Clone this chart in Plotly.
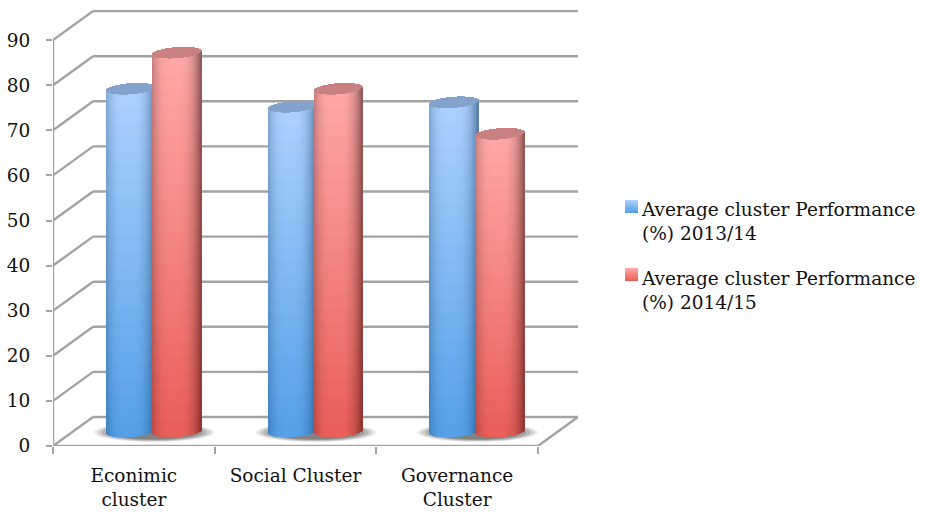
import plotly.graph_objects as go

categories = ["Econimic<br>cluster", "Social Cluster", "Governance<br>Cluster"]
series_2013 = [76, 72, 73]
series_2014 = [84, 76, 66]
name_2013 = "Average cluster Performance<br>(%) 2013/14"
name_2014 = "Average cluster Performance<br>(%) 2014/15"
y_ticks = list(range(0, 100, 10))

# Scale: pixels per data unit
PX_X, PX_Y = 161.5, 4.51
DEPTH_X, DEPTH_Y = 40 / PX_X, 29 / PX_Y
FONT = "DejaVu Serif"
FONT_SIZE = 18.5
GRID = "#a3a3a3"

BLUE = dict(top=(172, 209, 255), bottom=(84, 160, 230), top_edge=(88, 122, 165), bottom_edge=(42, 100, 158), cap=(131, 163, 204))
RED = dict(top=(255, 168, 168), bottom=(234, 94, 88), top_edge=(140, 88, 88), bottom_edge=(140, 50, 46), cap=(201, 128, 128))


def mix(a, b, t):
    return tuple(a[i] + (b[i] - a[i]) * t for i in range(3))


def rgb(c):
    return "rgb(%d,%d,%d)" % tuple(round(v) for v in c)


def cylinder(center, value, pal):
    radius_px = 24.4
    strips = 49
    rows = 24
    base0 = DEPTH_Y / 2
    cap = 5.6 / PX_Y
    tilt = 1.7 / PX_Y
    xs, ys, bases, colors = [], [], [], []
    for j in range(strips):
        u = (j + 0.5) / strips * 2 - 1
        h = (1 - u * u) ** 0.5
        d = min(1.0, abs(u + 0.1) / 1.1)
        shade = 1 - d ** 3.2
        x = center + u * radius_px / PX_X
        bottom = base0 + tilt * u - cap * h
        height = value
        for k in range(rows):
            v0, v1 = k / rows, (k + 1) / rows
            vm = (v0 + v1) / 2
            c = mix(mix(pal["bottom_edge"], pal["top_edge"], vm), mix(pal["bottom"], pal["top"], vm), shade)
            xs.append(x)
            bases.append(bottom + height * v0)
            ys.append(height * (v1 - v0))
            colors.append(rgb(c))
        xs.append(x)
        bases.append(bottom + height)
        ys.append(2 * cap * h)
        colors.append(rgb(pal["cap"]))
    return go.Bar(x=xs, y=ys, base=bases, width=(2 * radius_px / PX_X) / strips,
                  marker=dict(color=colors, line=dict(width=0)),
                  hoverinfo="skip", showlegend=False)


fig = go.Figure()
x_left, x_right = -0.5, 2.5
shapes = []


def line(x0, y0, x1, y1, width=2.4, color=GRID):
    shapes.append(dict(type="line", xref="x", yref="y", x0=x0, y0=y0, x1=x1, y1=y1, layer="below",
                       line=dict(color=color, width=width)))


for t in y_ticks:
    line(x_left, t, x_left + DEPTH_X, t + DEPTH_Y)
    line(x_left + DEPTH_X, t + DEPTH_Y, x_right + DEPTH_X, t + DEPTH_Y)
line(x_left, 0, x_left, y_ticks[-1])
line(x_left, 0, x_right, 0)
line(x_right, 0, x_right + DEPTH_X, DEPTH_Y)

# soft floor shadows
for i in range(len(categories)):
    cx = i + DEPTH_X / 2 + 0.002
    for grow, op in [(1.0, 0.12), (0.94, 0.17), (0.88, 0.22), (0.81, 0.28), (0.72, 0.34)]:
        hw, hh = 60 * grow / PX_X, 9.5 * grow / PX_Y
        shapes.append(dict(type="circle", xref="x", yref="y", layer="below",
                           x0=cx - hw, x1=cx + hw, y0=DEPTH_Y / 2 - 0.2 - hh, y1=DEPTH_Y / 2 - 0.2 + hh,
                           fillcolor="#555555", opacity=op, line=dict(width=0)))

offset = 23 / PX_X
for i, (a, b) in enumerate(zip(series_2013, series_2014)):
    fig.add_trace(cylinder(i + DEPTH_X / 2 - offset, a, BLUE))
    fig.add_trace(cylinder(i + DEPTH_X / 2 + offset, b, RED))

# legend entries (keys are the gradient swatches below)
for nm in (name_2013, name_2014):
    fig.add_trace(go.Scatter(x=[None], y=[None], mode="markers", name=nm, legendgroup=nm,
                             marker=dict(symbol="square", size=1, color="rgba(0,0,0,0)"), hoverinfo="skip"))

# gradient swatches, in paper pixels
W, H, L, R_, T, B = 929, 512, 53, 351, 10, 66
pw, ph = W - L - R_, H - T - B
for top_y, pal in [(200, BLUE), (268, RED)]:
    for r in range(13):
        v = 1 - r / 12
        shapes.append(dict(type="rect", xref="paper", yref="paper", layer="above",
                           x0=(625 - L) / pw, x1=(638 - L) / pw,
                           y0=(H - B - (top_y + r + 1)) / ph, y1=(H - B - (top_y + r)) / ph,
                           fillcolor=rgb(mix(pal["bottom"], pal["top"], v)), line=dict(width=0)))

fig.update_layout(
    width=W, height=H, margin=dict(l=L, r=R_, t=T, b=B, pad=0, autoexpand=False),
    paper_bgcolor="white", plot_bgcolor="white",
    barmode="overlay", bargap=0, bargroupgap=0,
    font=dict(family=FONT, size=FONT_SIZE, color="#111111"),
    shapes=shapes,
    showlegend=True,
    legend=dict(x=(602 - L) / pw, y=(H - B - 190) / ph, xanchor="left", yanchor="top",
                bgcolor="rgba(0,0,0,0)", tracegroupgap=18, font=dict(family=FONT, size=FONT_SIZE, color="#111111")),
    xaxis=dict(range=[x_left, x_right + DEPTH_X], tickmode="array", tickvals=list(range(len(categories))),
               ticktext=categories, ticks="", showgrid=False, zeroline=False, showline=False,
               ticklabelstandoff=16, tickangle=0,
               minor=dict(tickmode="array", tickvals=[x_left + i for i in range(len(categories) + 1)],
                          ticks="outside", ticklen=7, tickwidth=2, tickcolor=GRID, showgrid=False)),
    yaxis=dict(range=[0, (446 - 10) / PX_Y], tickmode="array", tickvals=y_ticks, ticks="outside",
               ticklen=6, tickwidth=2, tickcolor=GRID, showgrid=False, zeroline=False, showline=False,
               ticklabelstandoff=12),
)

fig.write_html("out.html", config={"displayModeBar": False},
               post_script="document.body.style.margin='0';document.documentElement.style.overflow='hidden';")
